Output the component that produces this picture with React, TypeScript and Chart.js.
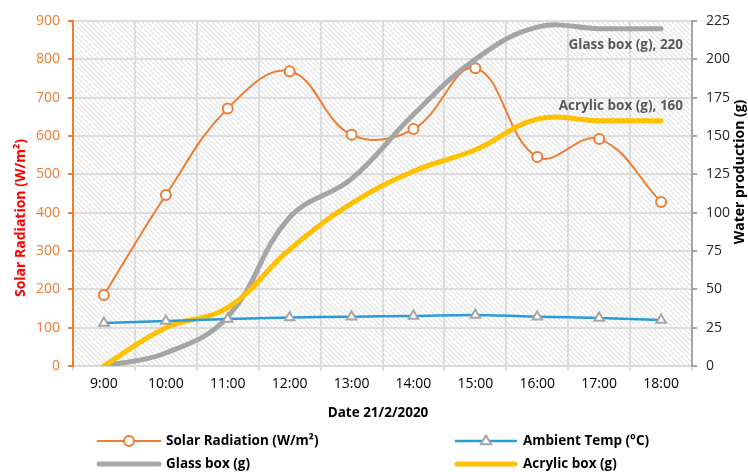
import React, { useEffect, useRef } from "react";
import { Chart, registerables } from "chart.js";

Chart.register(...registerables);

const categories = ["9:00", "10:00", "11:00", "12:00", "13:00", "14:00", "15:00", "16:00", "17:00", "18:00"];
const solarRadiation = [185, 446, 672, 769, 603, 618, 777, 545, 592, 428];
const ambientTemp = [28, 29.3, 30.6, 31.7, 32.2, 32.6, 33.3, 32.2, 31.3, 30];
const glassBox = [0, 8.5, 32, 97, 122, 164, 200, 221, 220, 220];
const acrylicBox = [0, 25, 38, 76, 106, 127, 141, 161, 160, 160];

const leftTicks = { min: 0, max: 900, step: 100 };
const rightTicks = { min: 0, max: 225, step: 25 };

const ORANGE = "#ED7D31";
const BLUE = "#2A9AD8";
const GREY = "#A5A5A5";
const YELLOW = "#FFC000";
const FONT = "'Open Sans', sans-serif";

export default function App() {
  const ref = useRef<HTMLCanvasElement | null>(null);

  useEffect(() => {
    const canvas = ref.current;
    if (!canvas) return;

    // hatch pattern
    const tile = document.createElement("canvas");
    tile.width = 5;
    tile.height = 5;
    const tctx = tile.getContext("2d")!;
    tctx.fillStyle = "#ffffff";
    tctx.fillRect(0, 0, 5, 5);
    tctx.strokeStyle = "#e2e2e2";
    tctx.lineWidth = 1.2;
    tctx.beginPath();
    tctx.moveTo(-1, -1);
    tctx.lineTo(6, 6);
    tctx.moveTo(4, -1);
    tctx.lineTo(6, 1);
    tctx.moveTo(-1, 4);
    tctx.lineTo(1, 6);
    tctx.stroke();

    const bgPlugin = {
      id: "bgHatch",
      beforeDraw(chart: any) {
        const { ctx, chartArea } = chart;
        const pat = ctx.createPattern(tile, "repeat");
        ctx.save();
        ctx.fillStyle = pat;
        ctx.fillRect(chartArea.left, chartArea.top, chartArea.right - chartArea.left, chartArea.bottom - chartArea.top);
        ctx.restore();
      },
    };

    const drawTriangle = (ctx: CanvasRenderingContext2D, x: number, y: number, r: number) => {
      ctx.beginPath();
      ctx.moveTo(x, y - r);
      ctx.lineTo(x + r * 0.95, y + r * 0.6);
      ctx.lineTo(x - r * 0.95, y + r * 0.6);
      ctx.closePath();
      ctx.fillStyle = "#fff";
      ctx.fill();
      ctx.strokeStyle = GREY;
      ctx.lineWidth = 2;
      ctx.stroke();
    };

    const overlayPlugin = {
      id: "overlay",
      afterDraw(chart: any) {
        const { ctx } = chart;
        ctx.save();
        // axis titles
        ctx.font = `bold 14px ${FONT}`;
        ctx.textAlign = "center";
        ctx.textBaseline = "middle";
        ctx.fillStyle = "#FF0000";
        ctx.save();
        ctx.translate(21, 218);
        ctx.rotate(-Math.PI / 2);
        ctx.fillText("Solar Radiation (W/m²)", 0, 0);
        ctx.restore();

        ctx.fillStyle = "#000000";
        ctx.save();
        ctx.translate(740, 172);
        ctx.rotate(-Math.PI / 2);
        ctx.fillText("Water production (g)", 0, 0);
        ctx.restore();

        ctx.font = `bold 13.5px ${FONT}`;
        ctx.fillStyle = "#000000";
        ctx.fillText("Date 21/2/2020", 378, 413);

        // data labels for last points
        ctx.font = `bold 13.5px ${FONT}`;
        ctx.fillStyle = "#595959";
        ctx.textAlign = "right";
        const gMeta = chart.getDatasetMeta(2);
        const aMeta = chart.getDatasetMeta(3);
        const gp = gMeta.data[gMeta.data.length - 1];
        const ap = aMeta.data[aMeta.data.length - 1];
        ctx.fillText(`Glass box (g), ${glassBox[glassBox.length - 1]}`, gp.x + 22, gp.y + 16);
        ctx.fillText(`Acrylic box (g), ${acrylicBox[acrylicBox.length - 1]}`, ap.x + 22, ap.y - 15);

        // legend
        ctx.textAlign = "left";
        ctx.font = `bold 13.5px ${FONT}`;
        ctx.fillStyle = "#000000";
        const r1 = 441;
        const r2 = 464;
        // solar
        ctx.strokeStyle = ORANGE;
        ctx.lineWidth = 2;
        ctx.beginPath();
        ctx.moveTo(97, r1);
        ctx.lineTo(161, r1);
        ctx.stroke();
        ctx.beginPath();
        ctx.arc(129, r1, 5, 0, Math.PI * 2);
        ctx.fillStyle = "#fff";
        ctx.fill();
        ctx.lineWidth = 2;
        ctx.stroke();
        ctx.fillStyle = "#000";
        ctx.fillText("Solar Radiation (W/m²)", 166, r1);
        // ambient
        ctx.strokeStyle = BLUE;
        ctx.lineWidth = 2.5;
        ctx.beginPath();
        ctx.moveTo(455, r1);
        ctx.lineTo(517, r1);
        ctx.stroke();
        drawTriangle(ctx, 486, r1, 5.5);
        ctx.fillStyle = "#000";
        ctx.fillText("Ambient Temp (°C)", 523, r1);
        // glass
        ctx.lineCap = "round";
        ctx.strokeStyle = GREY;
        ctx.lineWidth = 5;
        ctx.beginPath();
        ctx.moveTo(99, r2);
        ctx.lineTo(159, r2);
        ctx.stroke();
        ctx.fillText("Glass box (g)", 166, r2);
        // acrylic
        ctx.strokeStyle = YELLOW;
        ctx.beginPath();
        ctx.moveTo(457, r2);
        ctx.lineTo(515, r2);
        ctx.stroke();
        ctx.fillText("Acrylic box (g)", 523, r2);
        ctx.restore();
      },
    };

    const chart = new Chart(canvas, {
      type: "line",
      data: {
        labels: categories,
        datasets: [
          {
            label: "Solar Radiation (W/m²)",
            data: solarRadiation,
            yAxisID: "y",
            borderColor: ORANGE,
            borderWidth: 2,
            backgroundColor: "#ffffff",
            pointStyle: "circle",
            pointRadius: 5,
            pointBorderWidth: 2,
            pointBorderColor: ORANGE,
            pointBackgroundColor: "#ffffff",
            tension: 0.4,
            order: 3,
          },
          {
            label: "Ambient Temp (°C)",
            data: ambientTemp,
            yAxisID: "y1",
            borderColor: BLUE,
            borderWidth: 2.5,
            pointStyle: "triangle",
            pointRadius: 5.5,
            pointBorderWidth: 2,
            pointBorderColor: GREY,
            pointBackgroundColor: "#ffffff",
            tension: 0.3,
            order: 0,
          },
          {
            label: "Glass box (g)",
            data: glassBox,
            yAxisID: "y1",
            borderColor: GREY,
            borderWidth: 5,
            borderCapStyle: "round",
            pointRadius: 0,
            tension: 0.4,
            order: 2,
          },
          {
            label: "Acrylic box (g)",
            data: acrylicBox,
            yAxisID: "y1",
            borderColor: YELLOW,
            borderWidth: 5,
            borderCapStyle: "round",
            pointRadius: 0,
            tension: 0.4,
            order: 1,
          },
        ],
      },
      options: {
        animation: false,
        responsive: false,
        maintainAspectRatio: false,
        devicePixelRatio: 1,
        layout: { padding: { top: 21, left: 0, right: 0, bottom: 0 } },
        plugins: { legend: { display: false }, tooltip: { enabled: false } },
        scales: {
          x: {
            offset: true,
            grid: { offset: true, color: "#dcdcdc", lineWidth: 2, tickLength: 5, tickColor: "#dcdcdc" },
            border: { color: "#d9d9d9", width: 2 },
            ticks: { color: "#000", font: { family: FONT, size: 14 }, padding: 5, maxRotation: 0, autoSkip: false },
            afterFit: (s: any) => { s.height = 106; },
          },
          y: {
            position: "left",
            min: leftTicks.min,
            max: leftTicks.max,
            grid: { color: "#dcdcdc", lineWidth: 2, tickLength: 5, tickColor: ORANGE },
            border: { color: ORANGE, width: 2 },
            ticks: { stepSize: leftTicks.step, color: ORANGE, font: { family: FONT, size: 14 }, padding: 8 },
            afterFit: (s: any) => { s.width = 73; },
          },
          y1: {
            position: "right",
            min: rightTicks.min,
            max: rightTicks.max,
            grid: { drawOnChartArea: false, tickLength: 5, tickColor: GREY, lineWidth: 2 },
            border: { color: GREY, width: 2 },
            ticks: { stepSize: rightTicks.step, color: "#262626", font: { family: FONT, size: 14 }, padding: 9 },
            afterFit: (s: any) => { s.width = 56; },
          },
        },
      },
      plugins: [bgPlugin, overlayPlugin],
    } as any);

    return () => chart.destroy();
  }, []);

  return (
    <div style={{ position: "absolute", left: 0, top: 0, width: 748, height: 472, background: "#fff" }}>
      <canvas ref={ref} width={748} height={472} style={{ width: 748, height: 472, display: "block" }} />
    </div>
  );
}
